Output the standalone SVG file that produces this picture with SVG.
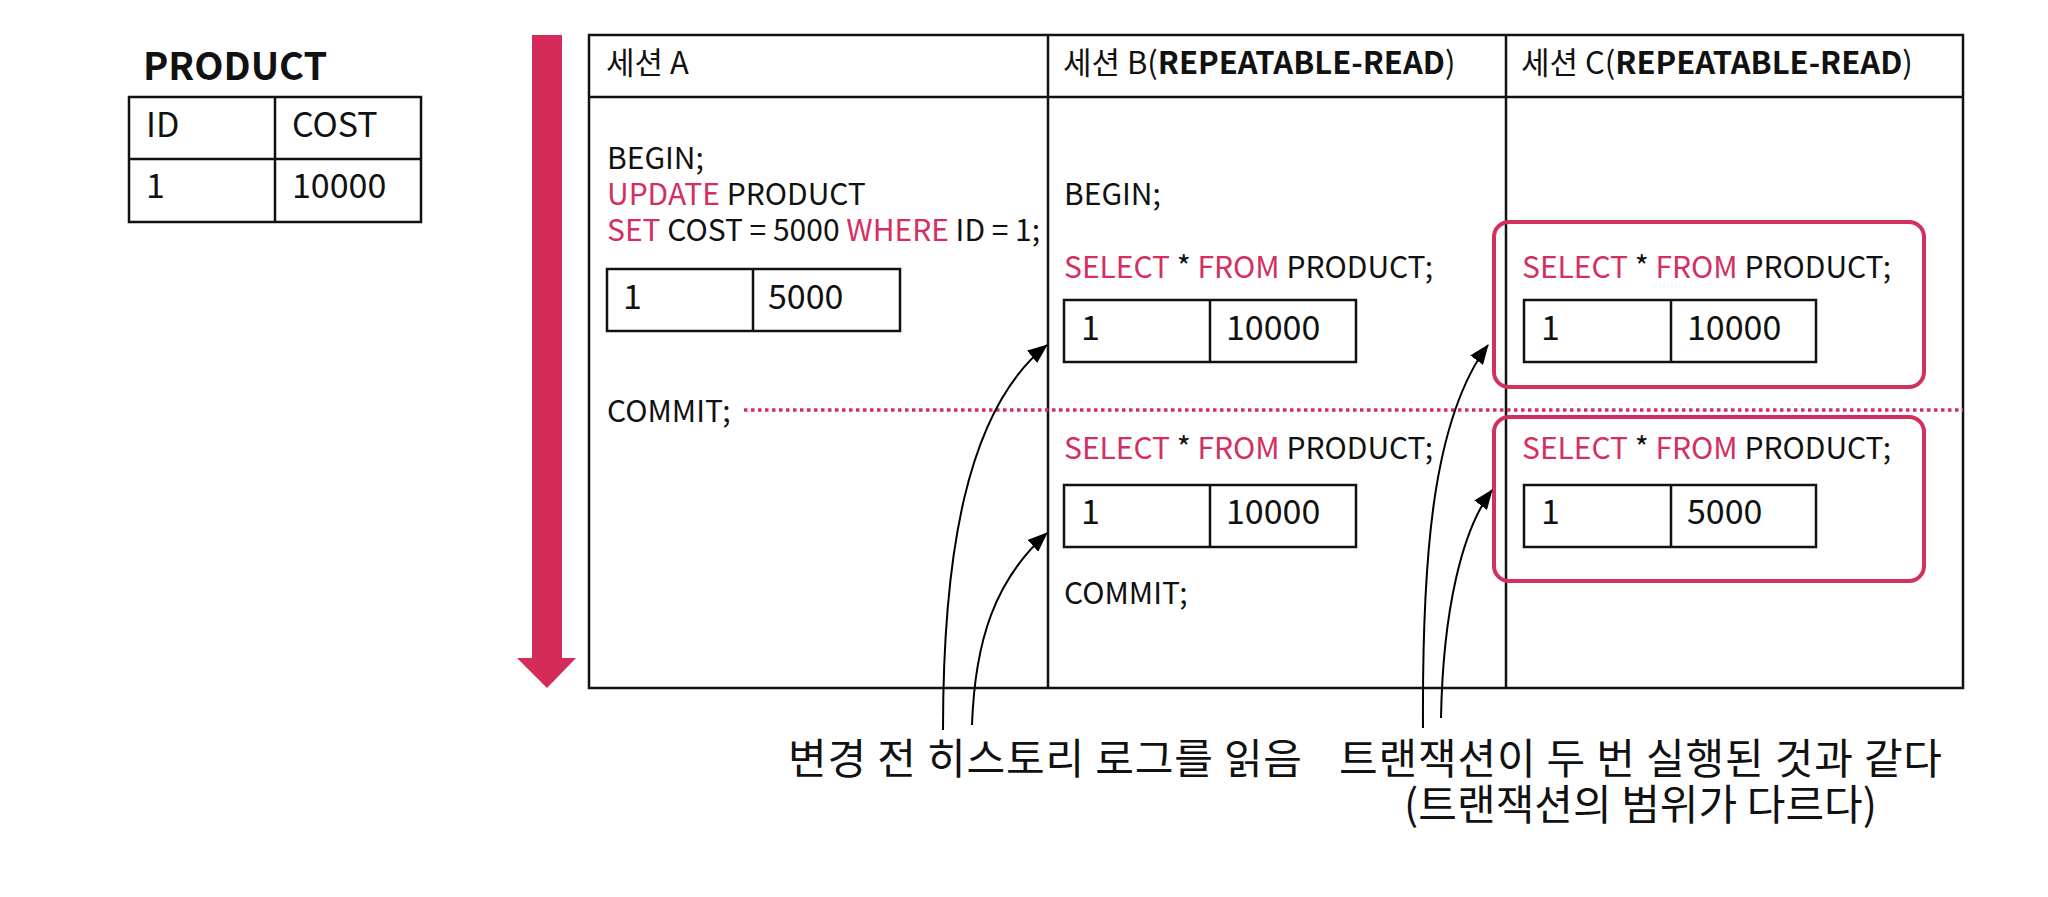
<svg xmlns="http://www.w3.org/2000/svg" width="2048" height="897" viewBox="0 0 2048 897">
<defs>
<style>
text{font-family:"Noto Sans CJK KR","Noto Sans",sans-serif;fill:#111}
.code{font-size:30px}
.head{font-size:31px}
.cell{font-size:34px}
.kw{fill:#D42F61}
.b{font-weight:bold}
.grid{fill:none;stroke:#111;stroke-width:2.5}
.pbox{fill:none;stroke:#D2305F;stroke-width:4}
.conn{fill:none;stroke:#000;stroke-width:2}
.label{font-size:42px}
</style>
<marker id="ah" viewBox="0 0 20 16" refX="19" refY="8" markerWidth="20" markerHeight="16" markerUnits="userSpaceOnUse" orient="auto">
<path d="M0 0 L20 8 L0 16 Z" fill="#000"/>
</marker>
</defs>
<rect width="2048" height="897" fill="#fff"/>

<g id="product-table">
<text x="143" y="80" class="b" font-size="38">PRODUCT</text>
<rect x="129" y="97" width="292" height="125" class="grid"/>
<line x1="129" y1="159" x2="421" y2="159" class="grid"/>
<line x1="275" y1="97" x2="275" y2="222" class="grid"/>
<text x="146" y="137" class="cell">ID</text>
<text x="292" y="137" class="cell">COST</text>
<text x="146" y="198" class="cell">1</text>
<text x="292" y="198" class="cell">10000</text>
</g>

<g id="time-arrow">
<path d="M532 35 H562 V658 H576 L547 688 L517 658 H532 Z" fill="#D42B5B"/>
</g>

<g id="session-table">
<rect x="589" y="35" width="1374" height="653" class="grid"/>
<line x1="589" y1="97" x2="1963" y2="97" class="grid"/>
<line x1="1048" y1="35" x2="1048" y2="688" class="grid"/>
<line x1="1506" y1="35" x2="1506" y2="688" class="grid"/>
<text x="606" y="74" class="head">세션 A</text>
<text x="1063" y="74" class="head">세션 B(<tspan class="b">REPEATABLE-READ</tspan>)</text>
<text x="1521" y="74" class="head">세션 C(<tspan class="b">REPEATABLE-READ</tspan>)</text>
</g>

<g id="session-a">
<text x="607" y="169" class="code">BEGIN;</text>
<text x="607" y="205" class="code"><tspan class="kw">UPDATE</tspan> PRODUCT</text>
<text x="607" y="241" class="code"><tspan class="kw">SET</tspan> COST = 5000 <tspan class="kw">WHERE</tspan> ID = 1;</text>
<rect x="607" y="269" width="293" height="62" class="grid"/>
<line x1="753" y1="269" x2="753" y2="331" class="grid"/>
<text x="623" y="309" class="cell">1</text>
<text x="768" y="309" class="cell">5000</text>
<text x="607" y="422" class="code">COMMIT;</text>
</g>

<g id="session-b">
<text x="1064" y="205" class="code">BEGIN;</text>
<text x="1064" y="278" class="code"><tspan class="kw">SELECT</tspan> * <tspan class="kw">FROM</tspan> PRODUCT;</text>
<rect x="1064" y="300" width="292" height="62" class="grid"/>
<line x1="1210" y1="300" x2="1210" y2="362" class="grid"/>
<text x="1081" y="340" class="cell">1</text>
<text x="1226" y="340" class="cell">10000</text>
<text x="1064" y="459" class="code"><tspan class="kw">SELECT</tspan> * <tspan class="kw">FROM</tspan> PRODUCT;</text>
<rect x="1064" y="485" width="292" height="62" class="grid"/>
<line x1="1210" y1="485" x2="1210" y2="547" class="grid"/>
<text x="1081" y="524" class="cell">1</text>
<text x="1226" y="524" class="cell">10000</text>
<text x="1064" y="604" class="code">COMMIT;</text>
</g>

<g id="session-c">
<rect x="1494" y="222" width="430" height="165" rx="15" class="pbox"/>
<text x="1522" y="278" class="code"><tspan class="kw">SELECT</tspan> * <tspan class="kw">FROM</tspan> PRODUCT;</text>
<rect x="1524" y="300" width="292" height="62" class="grid"/>
<line x1="1671" y1="300" x2="1671" y2="362" class="grid"/>
<text x="1541" y="340" class="cell">1</text>
<text x="1687" y="340" class="cell">10000</text>
<rect x="1494" y="417" width="430" height="164" rx="15" class="pbox"/>
<text x="1522" y="459" class="code"><tspan class="kw">SELECT</tspan> * <tspan class="kw">FROM</tspan> PRODUCT;</text>
<rect x="1524" y="485" width="292" height="62" class="grid"/>
<line x1="1671" y1="485" x2="1671" y2="547" class="grid"/>
<text x="1541" y="524" class="cell">1</text>
<text x="1687" y="524" class="cell">5000</text>
</g>

<g id="connectors">
<line x1="744" y1="410" x2="1963" y2="410" stroke="#D2305F" stroke-width="3.5" stroke-dasharray="3.5 3.5"/>
<path d="M943 730 C943 560 965 410 1047 345" class="conn" marker-end="url(#ah)"/>
<path d="M972 725 C975 640 995 580 1047 533" class="conn" marker-end="url(#ah)"/>
<path d="M1423 728 C1422 560 1432 420 1488 345" class="conn" marker-end="url(#ah)"/>
<path d="M1441 718 C1443 610 1462 530 1492 490" class="conn" marker-end="url(#ah)"/>
</g>

<g id="labels">
<text x="788" y="774" class="label" textLength="514" lengthAdjust="spacing">변경 전 히스토리 로그를 읽음</text>
<text x="1339" y="774" class="label" textLength="603" lengthAdjust="spacing">트랜잭션이 두 번 실행된 것과 같다</text>
<text x="1404" y="820" class="label" textLength="473" lengthAdjust="spacing">(트랜잭션의 범위가 다르다)</text>
</g>
</svg>
